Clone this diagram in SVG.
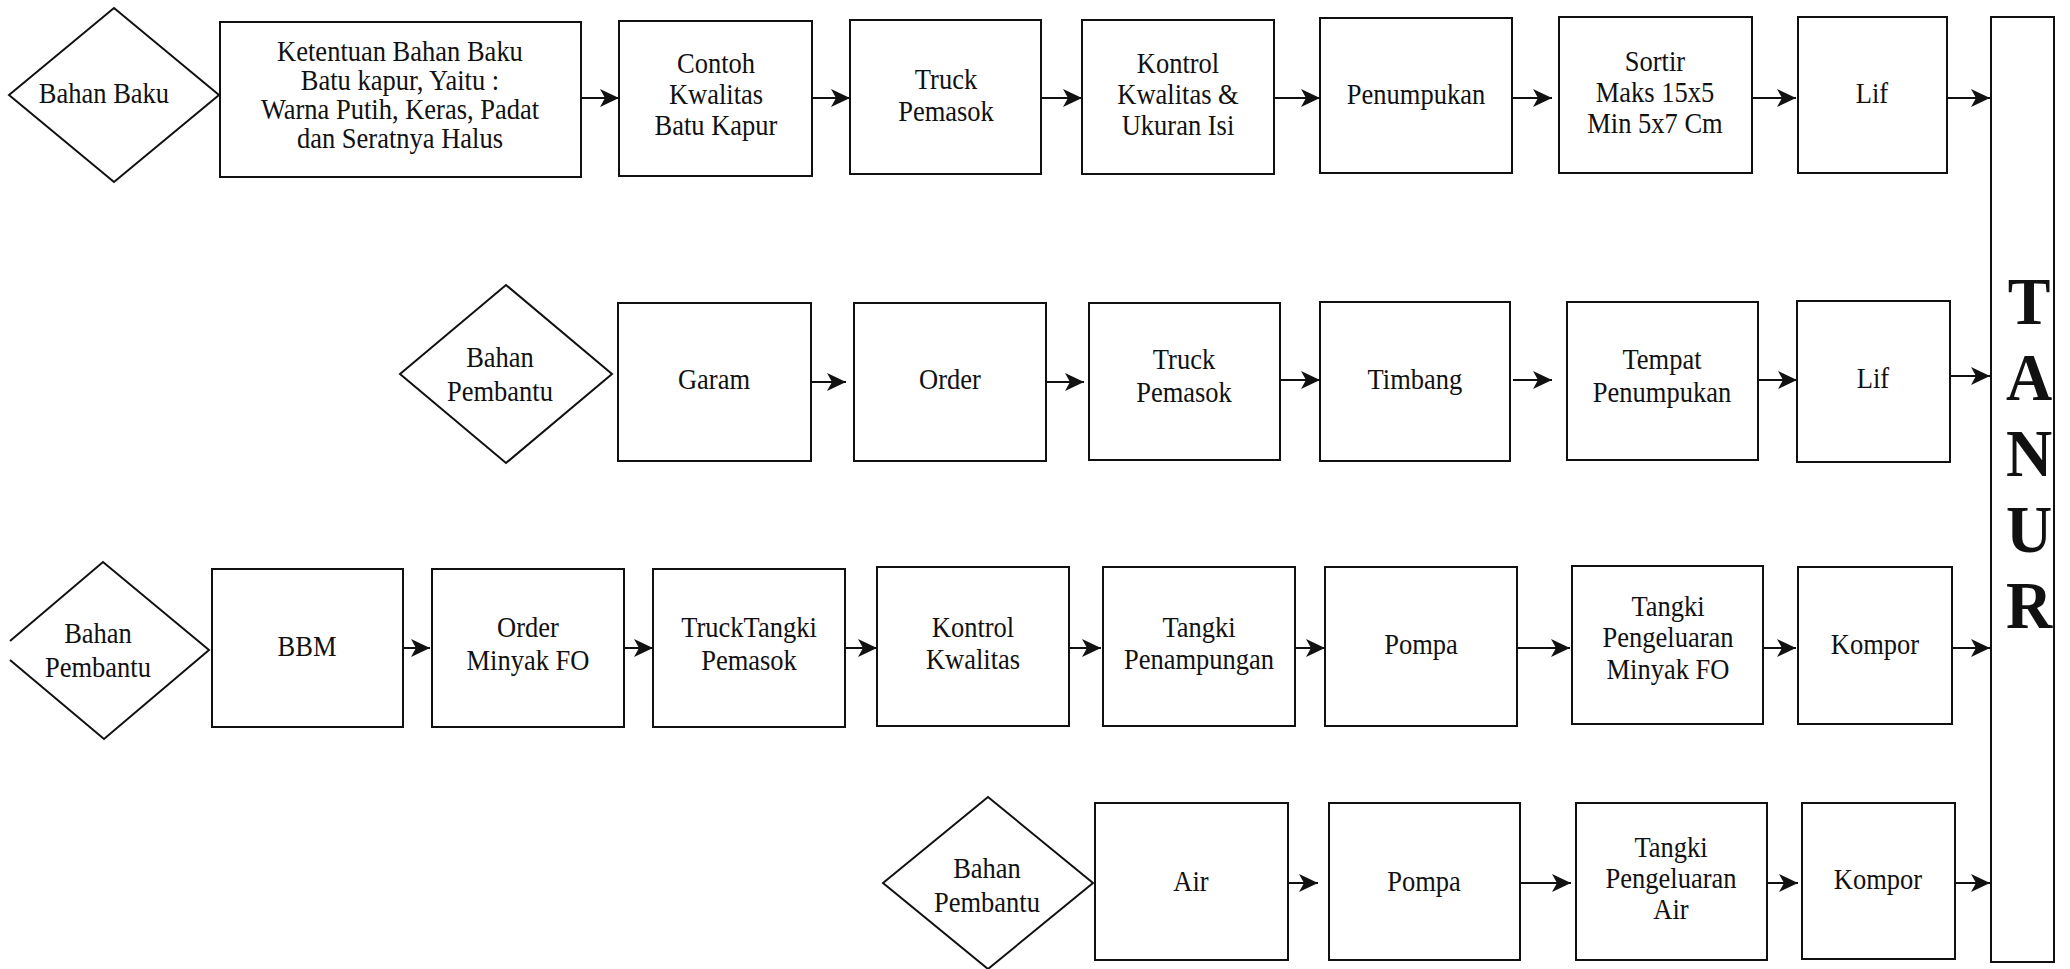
<svg xmlns="http://www.w3.org/2000/svg" width="2070" height="969" viewBox="0 0 2070 969">
  <style>
    .box { fill: #fff; stroke: #111; stroke-width: 2; }
    .dia { fill: #fff; stroke: #111; stroke-width: 2; stroke-linejoin: miter; }
    .lbl { font-family: "Liberation Serif", "Times New Roman", serif; font-size: 26.5px; fill: #111; text-anchor: middle;
           transform-box: fill-box; transform-origin: center; transform: scaleY(1.08); }
    .big { font-family: "Liberation Serif", "Times New Roman", serif; font-size: 64px; font-weight: bold; fill: #111; text-anchor: middle;
           transform-box: fill-box; transform-origin: center; transform: scaleY(1.06); }
    .cn { stroke: #111; stroke-width: 2; fill: none; marker-end: url(#ah); }
  </style>
  <defs>
    <marker id="ah" markerUnits="userSpaceOnUse" markerWidth="22" markerHeight="22" viewBox="0 -11 22 22" refX="19" refY="0" orient="auto">
      <path d="M0,-9 L19,0 L0,9 L5,0 Z" fill="#111"/>
    </marker>
  </defs>
  <rect width="2070" height="969" fill="#fff"/>

  <!-- Row 1: raw material (limestone) -->
  <g id="bahan-baku">
    <polygon class="dia" points="9,95 114,8 219,95 114,182"/>
    <text class="lbl" x="104" y="102">Bahan Baku</text>
  </g>
  <g id="ketentuan">
    <rect class="box" x="220" y="22" width="361" height="155"/>
    <text class="lbl" x="400" y="60">Ketentuan Bahan Baku</text>
    <text class="lbl" x="400" y="89">Batu kapur, Yaitu :</text>
    <text class="lbl" x="400" y="118">Warna Putih, Keras, Padat</text>
    <text class="lbl" x="400" y="147">dan Seratnya Halus</text>
  </g>
  <g id="contoh-kwalitas">
    <rect class="box" x="619" y="21" width="193" height="155"/>
    <text class="lbl" x="716" y="72">Contoh</text>
    <text class="lbl" x="716" y="103">Kwalitas</text>
    <text class="lbl" x="716" y="134">Batu Kapur</text>
  </g>
  <g id="truck-pemasok-1">
    <rect class="box" x="850" y="20" width="191" height="154"/>
    <text class="lbl" x="946" y="88">Truck</text>
    <text class="lbl" x="946" y="120">Pemasok</text>
  </g>
  <g id="kontrol-kwalitas-1">
    <rect class="box" x="1082" y="20" width="192" height="154"/>
    <text class="lbl" x="1178" y="72">Kontrol</text>
    <text class="lbl" x="1178" y="103">Kwalitas &amp;</text>
    <text class="lbl" x="1178" y="134">Ukuran Isi</text>
  </g>
  <g id="penumpukan">
    <rect class="box" x="1320" y="18" width="192" height="155"/>
    <text class="lbl" x="1416" y="103">Penumpukan</text>
  </g>
  <g id="sortir">
    <rect class="box" x="1559" y="17" width="193" height="156"/>
    <text class="lbl" x="1655" y="70">Sortir</text>
    <text class="lbl" x="1655" y="101">Maks 15x5</text>
    <text class="lbl" x="1655" y="132">Min 5x7 Cm</text>
  </g>
  <g id="lif-1">
    <rect class="box" x="1798" y="17" width="149" height="156"/>
    <text class="lbl" x="1872" y="102">Lif</text>
  </g>

  <!-- Row 2: salt -->
  <g id="bahan-pembantu-garam">
    <polygon class="dia" points="400,374 506,285 612,374 506,463"/>
    <text class="lbl" x="500" y="366">Bahan</text>
    <text class="lbl" x="500" y="400">Pembantu</text>
  </g>
  <g id="garam">
    <rect class="box" x="618" y="303" width="193" height="158"/>
    <text class="lbl" x="714" y="388">Garam</text>
  </g>
  <g id="order-garam">
    <rect class="box" x="854" y="303" width="192" height="158"/>
    <text class="lbl" x="950" y="388">Order</text>
  </g>
  <g id="truck-pemasok-2">
    <rect class="box" x="1089" y="303" width="191" height="157"/>
    <text class="lbl" x="1184" y="368">Truck</text>
    <text class="lbl" x="1184" y="401">Pemasok</text>
  </g>
  <g id="timbang">
    <rect class="box" x="1320" y="302" width="190" height="159"/>
    <text class="lbl" x="1415" y="388">Timbang</text>
  </g>
  <g id="tempat-penumpukan">
    <rect class="box" x="1567" y="302" width="191" height="158"/>
    <text class="lbl" x="1662" y="368">Tempat</text>
    <text class="lbl" x="1662" y="401">Penumpukan</text>
  </g>
  <g id="lif-2">
    <rect class="box" x="1797" y="301" width="153" height="161"/>
    <text class="lbl" x="1873" y="387">Lif</text>
  </g>

  <!-- Row 3: fuel oil -->
  <g id="bahan-pembantu-bbm">
    <polyline class="dia" points="10,641 103,562 209,650 104,739 10,660"/>
    <text class="lbl" x="98" y="642">Bahan</text>
    <text class="lbl" x="98" y="676">Pembantu</text>
  </g>
  <g id="bbm">
    <rect class="box" x="212" y="569" width="191" height="158"/>
    <text class="lbl" x="307" y="655">BBM</text>
  </g>
  <g id="order-minyak">
    <rect class="box" x="432" y="569" width="192" height="158"/>
    <text class="lbl" x="528" y="636">Order</text>
    <text class="lbl" x="528" y="669">Minyak FO</text>
  </g>
  <g id="truck-tangki">
    <rect class="box" x="653" y="569" width="192" height="158"/>
    <text class="lbl" x="749" y="636">TruckTangki</text>
    <text class="lbl" x="749" y="669">Pemasok</text>
  </g>
  <g id="kontrol-kwalitas-2">
    <rect class="box" x="877" y="567" width="192" height="159"/>
    <text class="lbl" x="973" y="636">Kontrol</text>
    <text class="lbl" x="973" y="668">Kwalitas</text>
  </g>
  <g id="tangki-penampungan">
    <rect class="box" x="1103" y="567" width="192" height="159"/>
    <text class="lbl" x="1199" y="636">Tangki</text>
    <text class="lbl" x="1199" y="668">Penampungan</text>
  </g>
  <g id="pompa-1">
    <rect class="box" x="1325" y="567" width="192" height="159"/>
    <text class="lbl" x="1421" y="653">Pompa</text>
  </g>
  <g id="tangki-pengeluaran-fo">
    <rect class="box" x="1572" y="566" width="191" height="158"/>
    <text class="lbl" x="1668" y="615">Tangki</text>
    <text class="lbl" x="1668" y="646">Pengeluaran</text>
    <text class="lbl" x="1668" y="678">Minyak FO</text>
  </g>
  <g id="kompor-1">
    <rect class="box" x="1798" y="567" width="154" height="157"/>
    <text class="lbl" x="1875" y="653">Kompor</text>
  </g>

  <!-- Row 4: water -->
  <g id="bahan-pembantu-air">
    <polygon class="dia" points="883,883 988,797 1093,883 988,969"/>
    <text class="lbl" x="987" y="877">Bahan</text>
    <text class="lbl" x="987" y="911">Pembantu</text>
  </g>
  <g id="air">
    <rect class="box" x="1095" y="803" width="193" height="157"/>
    <text class="lbl" x="1191" y="890">Air</text>
  </g>
  <g id="pompa-2">
    <rect class="box" x="1329" y="803" width="191" height="157"/>
    <text class="lbl" x="1424" y="890">Pompa</text>
  </g>
  <g id="tangki-pengeluaran-air">
    <rect class="box" x="1576" y="803" width="191" height="157"/>
    <text class="lbl" x="1671" y="856">Tangki</text>
    <text class="lbl" x="1671" y="887">Pengeluaran</text>
    <text class="lbl" x="1671" y="918">Air</text>
  </g>
  <g id="kompor-2">
    <rect class="box" x="1802" y="803" width="153" height="156"/>
    <text class="lbl" x="1878" y="888">Kompor</text>
  </g>

  <!-- Kiln -->
  <g id="tanur">
    <rect class="box" x="1991" y="17" width="63" height="945"/>
    <text class="big" x="2029" y="323">T</text>
    <text class="big" x="2029" y="399">A</text>
    <text class="big" x="2029" y="475">N</text>
    <text class="big" x="2029" y="551">U</text>
    <text class="big" x="2029" y="627">R</text>
  </g>

  <g id="connectors">
    <line class="cn" x1="581" y1="98" x2="619" y2="98"/>
    <line class="cn" x1="812" y1="98" x2="850" y2="98"/>
    <line class="cn" x1="1041" y1="98" x2="1082" y2="98"/>
    <line class="cn" x1="1274" y1="98" x2="1320" y2="98"/>
    <line class="cn" x1="1512" y1="98" x2="1552" y2="98"/>
    <line class="cn" x1="1752" y1="98" x2="1796" y2="98"/>
    <line class="cn" x1="1947" y1="98" x2="1990" y2="98"/>

    <line class="cn" x1="811" y1="382" x2="846" y2="382"/>
    <line class="cn" x1="1046" y1="382" x2="1084" y2="382"/>
    <line class="cn" x1="1280" y1="380" x2="1320" y2="380"/>
    <line class="cn" x1="1513" y1="380" x2="1552" y2="380"/>
    <line class="cn" x1="1758" y1="380" x2="1797" y2="380"/>
    <line class="cn" x1="1950" y1="376" x2="1990" y2="376"/>

    <line class="cn" x1="403" y1="648" x2="430" y2="648"/>
    <line class="cn" x1="624" y1="648" x2="653" y2="648"/>
    <line class="cn" x1="845" y1="648" x2="877" y2="648"/>
    <line class="cn" x1="1069" y1="648" x2="1101" y2="648"/>
    <line class="cn" x1="1295" y1="648" x2="1325" y2="648"/>
    <line class="cn" x1="1517" y1="648" x2="1570" y2="648"/>
    <line class="cn" x1="1763" y1="648" x2="1796" y2="648"/>
    <line class="cn" x1="1952" y1="648" x2="1990" y2="648"/>

    <line class="cn" x1="1288" y1="883" x2="1318" y2="883"/>
    <line class="cn" x1="1520" y1="883" x2="1571" y2="883"/>
    <line class="cn" x1="1767" y1="883" x2="1798" y2="883"/>
    <line class="cn" x1="1955" y1="883" x2="1990" y2="883"/>
  </g>
</svg>
